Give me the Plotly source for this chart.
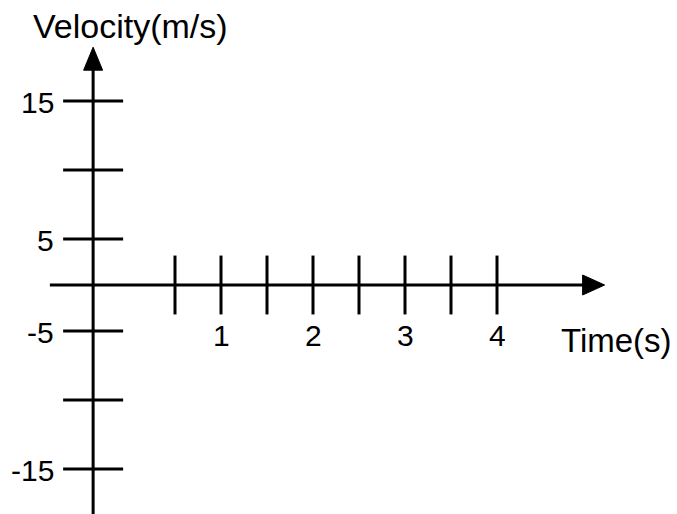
import plotly.graph_objects as go

# ---- data (axis diagram with no plotted series) ----
x_tick_values = [0.5, 1, 1.5, 2, 2.5, 3, 3.5, 4]
x_tick_labels = ["", "1", "", "2", "", "3", "", "4"]
y_tick_values = [15, 10, 5, -5, -10, -15]
y_tick_labels = ["15", "", "5", "-5", "", "-15"]
x_title = "Time(s)"
y_title = "Velocity(m/s)"

FONT = "Liberation Sans, Arial, sans-serif"
LW = 3
W, H = 677, 514


def v_to_u(v):
    """Broken velocity axis used by the diagram: 0..5 compressed, then 5 per 1.5 units."""
    s = 1 if v >= 0 else -1
    a = abs(v)
    if a <= 5:
        return s * a / 5
    return s * (1 + 1.5 * (a - 5) / 5)


# axis geometry in data units
X_RANGE = [-129 / 92, (W - 129) / 92]
Y_RANGE = [-(H - 285) / 46, 285 / 46]
Y_AXIS_X = -0.39          # where the vertical axis crosses
X_AXIS_START = -0.86
X_AXIS_END = 5.17
Y_AXIS_TOP = 5.17
Y_AXIS_BOTTOM = Y_RANGE[0] - 0.5
YT_HALF = 0.326           # half-length of y ticks (x units)
XT_HALF = 0.64            # half-length of x ticks (y units)

fig = go.Figure()

line = dict(color="black", width=LW)

# main axes
fig.add_trace(go.Scatter(x=[X_AXIS_START, X_AXIS_END - 0.15], y=[0, 0], mode="lines",
                         line=line, hoverinfo="skip"))
fig.add_trace(go.Scatter(x=[Y_AXIS_X, Y_AXIS_X], y=[Y_AXIS_BOTTOM, Y_AXIS_TOP - 0.3],
                         mode="lines", line=line, hoverinfo="skip"))

# x ticks
tx, ty = [], []
for v in x_tick_values:
    tx += [v, v, None]
    ty += [-XT_HALF, XT_HALF, None]
fig.add_trace(go.Scatter(x=tx, y=ty, mode="lines", line=line, hoverinfo="skip"))

# y ticks
yx, yy = [], []
for v in y_tick_values:
    u = v_to_u(v)
    yx += [Y_AXIS_X - YT_HALF, Y_AXIS_X + YT_HALF, None]
    yy += [u, u, None]
fig.add_trace(go.Scatter(x=yx, y=yy, mode="lines", line=line, hoverinfo="skip"))

# arrowheads (triangles)
ah_len_x = 22 / 92
ah_half_y = 10 / 46
fig.add_trace(go.Scatter(
    x=[X_AXIS_END, X_AXIS_END - ah_len_x, X_AXIS_END - ah_len_x, X_AXIS_END],
    y=[0, ah_half_y, -ah_half_y, 0], mode="lines", fill="toself",
    fillcolor="black", line=dict(color="black", width=1), hoverinfo="skip"))
ah_len_y = 23 / 46
ah_half_x = 9.5 / 92
fig.add_trace(go.Scatter(
    x=[Y_AXIS_X, Y_AXIS_X - ah_half_x, Y_AXIS_X + ah_half_x, Y_AXIS_X],
    y=[Y_AXIS_TOP, Y_AXIS_TOP - ah_len_y, Y_AXIS_TOP - ah_len_y, Y_AXIS_TOP],
    mode="lines", fill="toself", fillcolor="black",
    line=dict(color="black", width=1), hoverinfo="skip"))

annotations = []
for v, lab in zip(x_tick_values, x_tick_labels):
    if lab:
        annotations.append(dict(x=v, y=-1.09, xref="x", yref="y", text=lab,
                                showarrow=False, xanchor="center", yanchor="middle",
                                font=dict(family=FONT, size=30, color="black")))
for v, lab in zip(y_tick_values, y_tick_labels):
    if lab:
        annotations.append(dict(x=-0.79, y=v_to_u(v) - 0.03, xref="x", yref="y", text=lab,
                                showarrow=False, xanchor="right", yanchor="middle",
                                font=dict(family=FONT, size=30, color="black")))

annotations.append(dict(x=(130 - 129) / 92, y=(285 - 26) / 46, xref="x", yref="y",
                        text=y_title, showarrow=False, xanchor="center", yanchor="middle",
                        font=dict(family=FONT, size=34, color="black")))
annotations.append(dict(x=(616 - 129) / 92, y=(285 - 340) / 46, xref="x", yref="y",
                        text=x_title, showarrow=False, xanchor="center", yanchor="middle",
                        font=dict(family=FONT, size=33, color="black")))

fig.update_layout(
    width=W, height=H,
    margin=dict(l=0, r=0, t=0, b=0),
    paper_bgcolor="white", plot_bgcolor="white",
    showlegend=False,
    xaxis=dict(range=X_RANGE, visible=False, fixedrange=True),
    yaxis=dict(range=Y_RANGE, visible=False, fixedrange=True),
    annotations=annotations,
)

fig.write_html(
    "out.html",
    config={"displayModeBar": False},
    post_script="document.body.style.margin='0';document.body.style.overflow='hidden';",
)
